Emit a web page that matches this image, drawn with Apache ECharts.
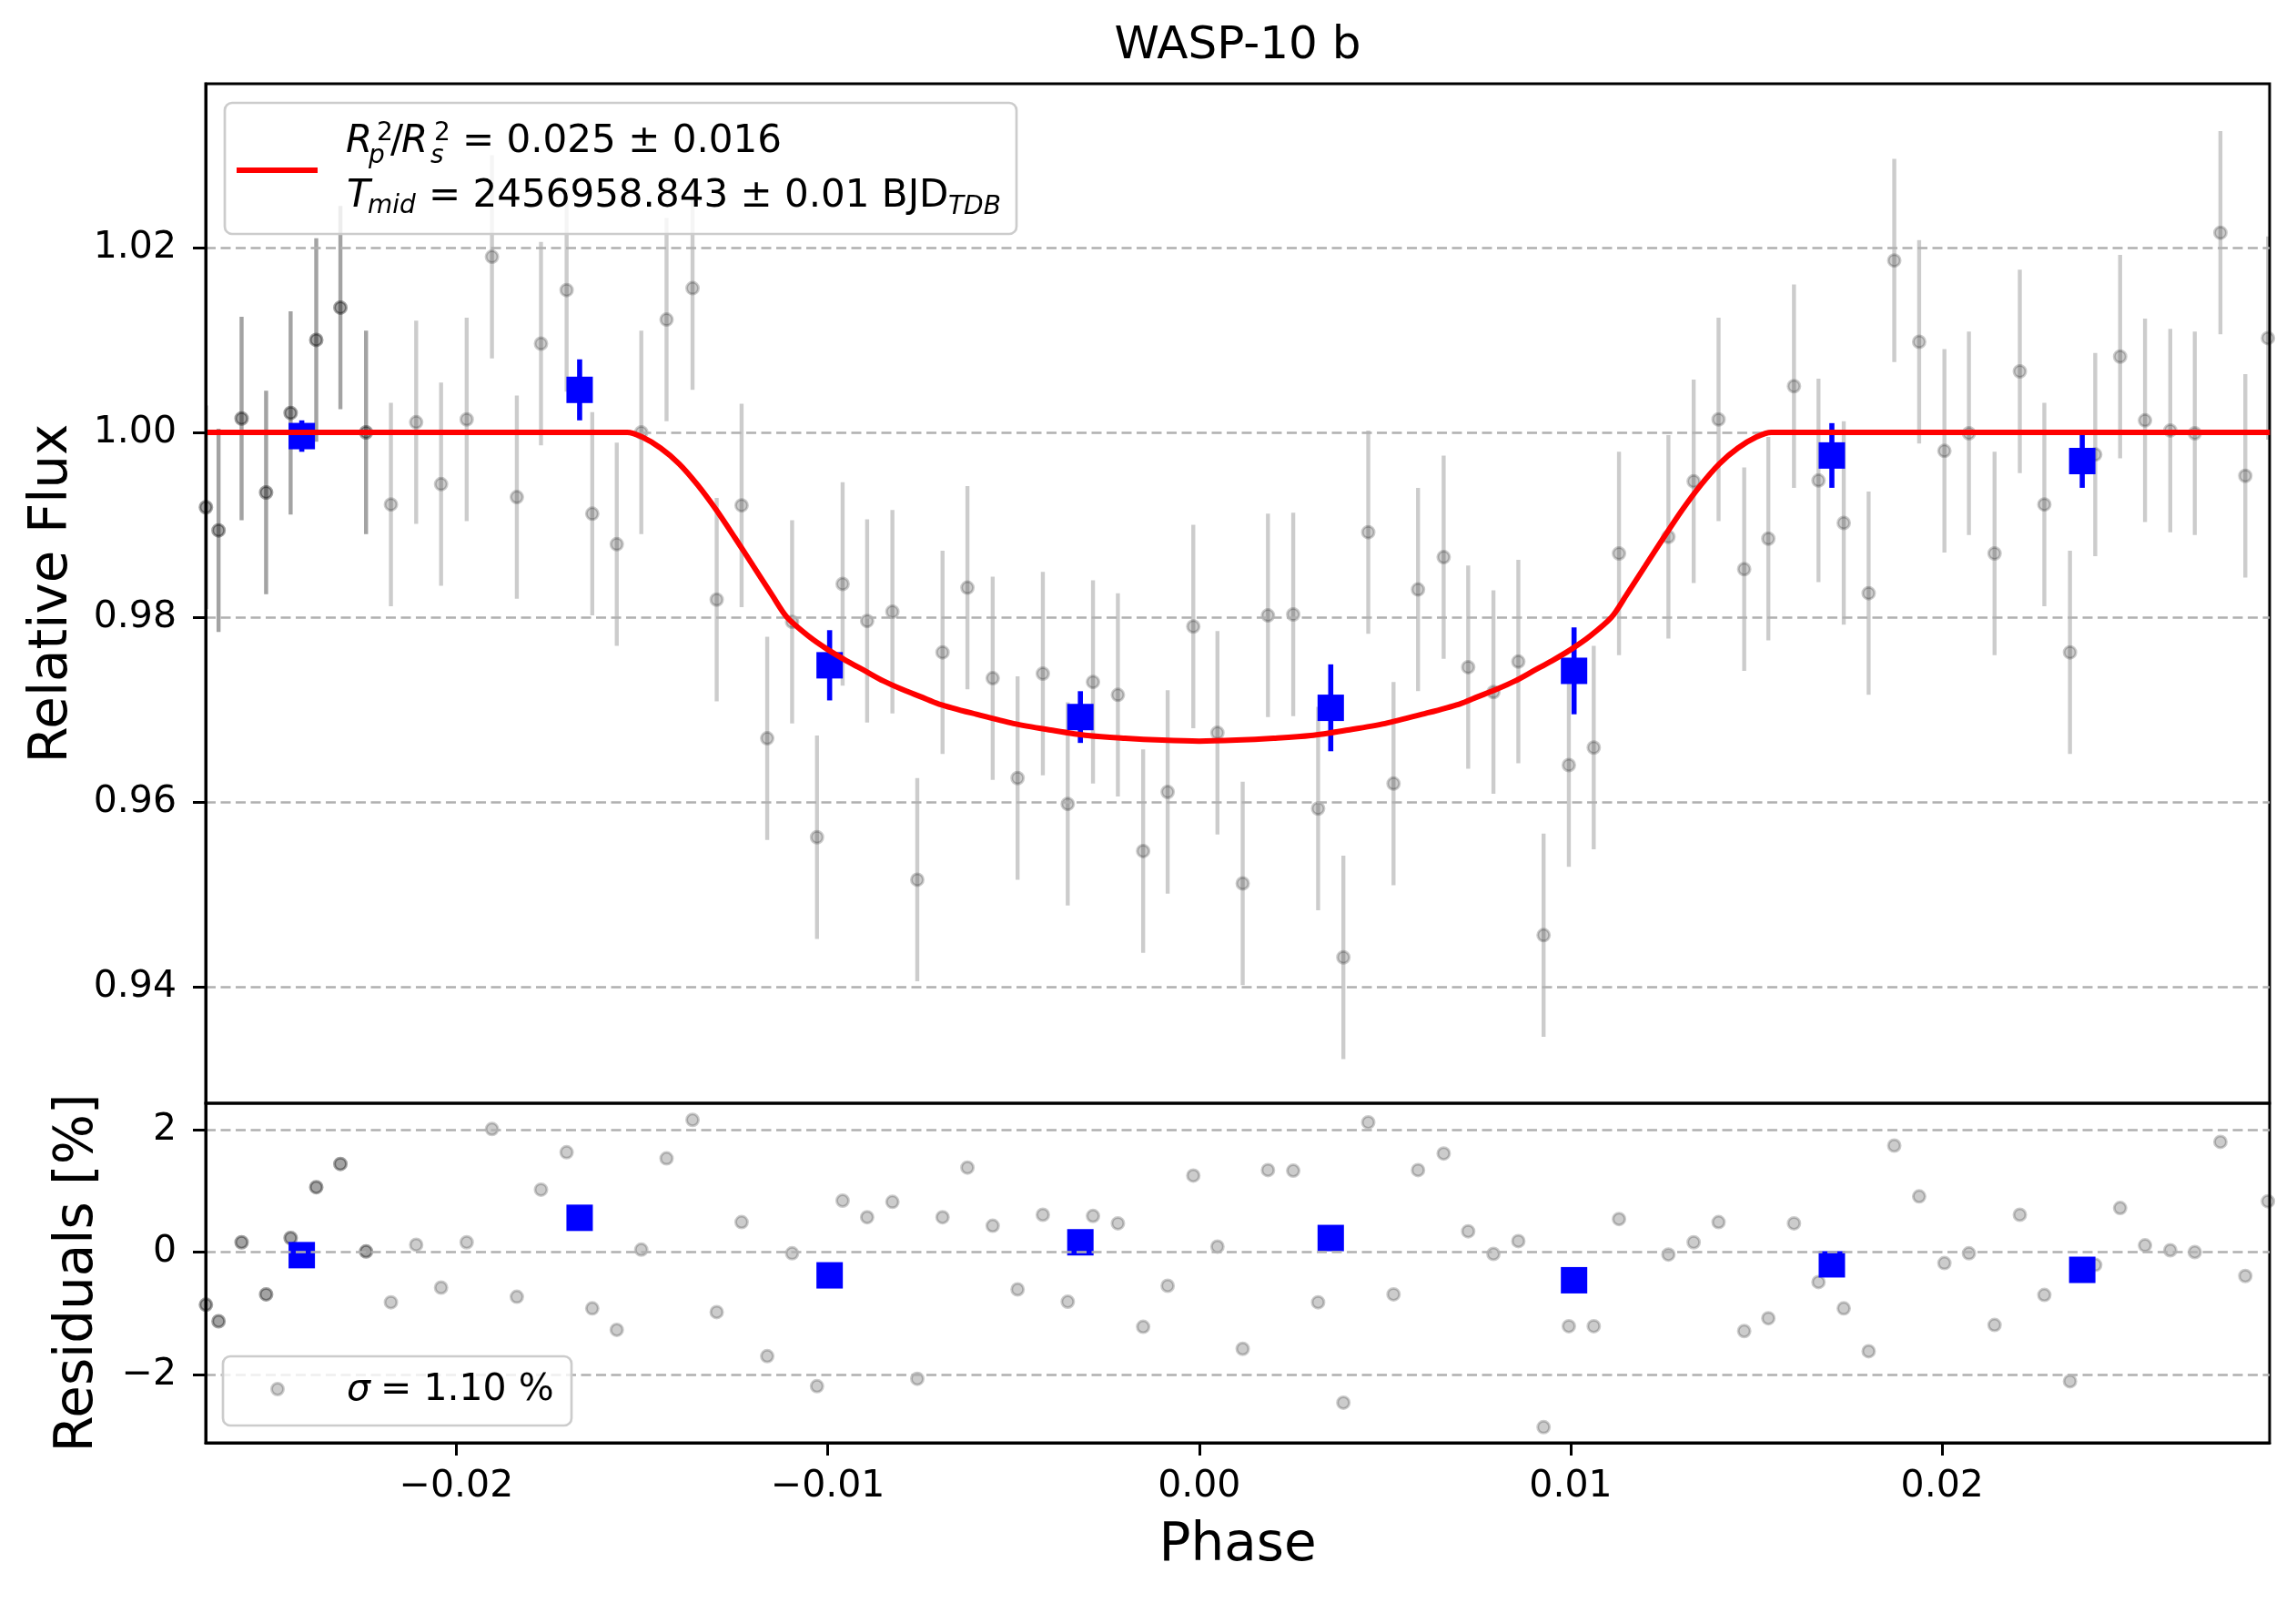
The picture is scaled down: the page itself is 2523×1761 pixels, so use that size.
<!DOCTYPE html>
<html>
<head>
<meta charset="utf-8">
<script src="https://cdn.jsdelivr.net/npm/echarts@6/dist/echarts.min.js"></script>
<style>html,body{margin:0;padding:0;background:#fff}#c{width:2523px;height:1761px}</style>
</head>
<body>
<div id="c"></div>
<script>
// ---------- data ----------
const phase = [
 -0.02674, -0.02640, -0.02578, -0.02512, -0.02446, -0.02377, -0.02312, -0.02243,
 -0.02176, -0.02108, -0.02041, -0.01972, -0.01904, -0.01837, -0.01772, -0.01703,
 -0.01634, -0.01568, -0.01502, -0.01434, -0.01364, -0.01299, -0.01232, -0.01163,
 -0.01096, -0.01029, -0.00960, -0.00894, -0.00826, -0.00759, -0.00691, -0.00624,
 -0.00556, -0.00489, -0.00421, -0.00354, -0.00286, -0.00219, -0.00151, -0.00085,
 -0.00016, 0.00049, 0.00117, 0.00185, 0.00253, 0.00320, 0.00388, 0.00455,
 0.00523, 0.00589, 0.00658, 0.00724, 0.00792, 0.00859, 0.00927, 0.00995,
 0.01062, 0.01130, 0.01263, 0.01331, 0.01398, 0.01467, 0.01532, 0.01601,
 0.01667, 0.01735, 0.01802, 0.01871, 0.01938, 0.02006, 0.02072, 0.02141,
 0.02209, 0.02275, 0.02344, 0.02412, 0.02479, 0.02546, 0.02614, 0.02680,
 0.02749, 0.02816, 0.02877
];
const flux = [
 0.9919, 0.9894, 1.0015, 0.9935, 1.0021, 1.0100, 1.0135, 1.0000,
 0.9922, 1.0011, 0.9944, 1.0014, 1.0190, 0.9930, 1.0096, 1.0154,
 0.9912, 0.9879, 1.0000, 1.0122, 1.0156, 0.9819, 0.9921, 0.9669,
 0.9795, 0.9562, 0.9836, 0.9796, 0.9806, 0.9516, 0.9762, 0.9832,
 0.9734, 0.9626, 0.9739, 0.9598, 0.9730, 0.9716, 0.9547, 0.9611,
 0.9790, 0.9675, 0.9512, 0.9802, 0.9803, 0.9593, 0.9432, 0.9892,
 0.9620, 0.9830, 0.9865, 0.9746, 0.9719, 0.9752, 0.9456, 0.9640,
 0.9659, 0.9869, 0.9887, 0.9947, 1.0014, 0.9852, 0.9885, 1.0050,
 0.9948, 0.9902, 0.9826, 1.0186, 1.0098, 0.9980, 0.9999, 0.9869,
 1.0066, 0.9922, 0.9762, 0.9976, 1.0082, 1.0013, 1.0002, 0.9999,
 1.0216, 0.9953, 1.0102
];
const fluxErr = 0.011;
const residual = [
 -0.86, -1.13, 0.16, -0.69, 0.23, 1.06, 1.44, 0.01,
 -0.82, 0.12, -0.58, 0.16, 2.01, -0.73, 1.02, 1.63,
 -0.92, -1.27, 0.04, 1.53, 2.16, -0.98, 0.49, -1.70,
 -0.02, -2.19, 0.84, 0.57, 0.82, -2.07, 0.57, 1.38,
 0.43, -0.61, 0.61, -0.81, 0.59, 0.47, -1.22, -0.55,
 1.25, 0.09, -1.58, 1.34, 1.33, -0.82, -2.46, 2.12,
 -0.69, 1.34, 1.61, 0.34, -0.03, 0.18, -2.86, -1.21,
 -1.21, 0.54, -0.04, 0.16, 0.49, -1.29, -1.08, 0.47,
 -0.49, -0.92, -1.62, 1.74, 0.91, -0.18, -0.02, -1.19,
 0.61, -0.70, -2.11, -0.21, 0.72, 0.11, 0.03, 0.00,
 1.80, -0.39, 0.83
];
// the first points appear twice (overlapping, hence darker)
const overlapCount = 8;

const binPhase = [-0.02416, -0.01668, -0.00995, -0.00320, 0.00354, 0.01009, 0.01703, 0.02377];
const binFlux = [0.9996, 1.0046, 0.9748, 0.9692, 0.9702, 0.9742, 0.9975, 0.9969];
const binErr = [0.0017, 0.0033, 0.0038, 0.0028, 0.0047, 0.0047, 0.0035, 0.0029];
const binResidual = [-0.05, 0.56, -0.38, 0.16, 0.23, -0.46, -0.20, -0.29];

// model curve
const modelPhase = [
 -0.02675, -0.0154, -0.0150, -0.0145, -0.0140, -0.0135, -0.0130, -0.0125,
 -0.0120, -0.0115, -0.0111, -0.0105, -0.0100, -0.0095, -0.0090, -0.0085,
 -0.0080, -0.0075, -0.0070, -0.0060, -0.0050, -0.0040, -0.0030, -0.0020,
 -0.0010, 0.0000, 0.0010, 0.0020, 0.0030, 0.0040, 0.0050, 0.0060,
 0.0070, 0.0075, 0.0080, 0.0085, 0.0090, 0.0095, 0.0100, 0.0105,
 0.0111, 0.0115, 0.0120, 0.0125, 0.0130, 0.0135, 0.0140, 0.0145,
 0.0150, 0.0154, 0.02882
];
const modelFlux = [
 1.0000, 1.0000, 0.9995, 0.9983, 0.9966, 0.9943, 0.9916, 0.9886,
 0.9855, 0.9824, 0.9800, 0.9779, 0.9765, 0.9753, 0.9742, 0.9731,
 0.9722, 0.9714, 0.9706, 0.9695, 0.9685, 0.9678, 0.9672, 0.9669,
 0.9667, 0.9666, 0.9667, 0.9669, 0.9672, 0.9678, 0.9685, 0.9695,
 0.9706, 0.9714, 0.9722, 0.9731, 0.9742, 0.9753, 0.9765, 0.9779,
 0.9800, 0.9824, 0.9855, 0.9886, 0.9916, 0.9943, 0.9966, 0.9983,
 0.9995, 1.0000, 1.0000
];

const phaseTicks = [-0.02, -0.01, 0.00, 0.01, 0.02];
const fluxTicks = [0.94, 0.96, 0.98, 1.00, 1.02];
const residTicks = [-2, 0, 2];

const titleText = 'WASP-10 b';
const xLabel = 'Phase';
const yLabelTop = 'Relative Flux';
const yLabelBottom = 'Residuals [%]';
const legendLine1 = '= 0.025 \u00b1 0.016';
const legendLine2 = '= 2456958.843 \u00b1 0.01 BJD';
const sigmaText = '= 1.10 %';

// ---------- layout ----------
const FONT = 'DejaVu Sans';
const XMIN = -0.026747, XMAX = 0.028814;
const YMIN = 0.927415, YMAX = 1.03772;
const RMIN = -3.115, RMAX = 2.431;
const GL = 226, GW = 2268, T1 = 92, H1 = 1120, T2 = 1212, H2 = 373;

const GRAY = 'rgba(0,0,0,0.2)';
const minus = s => s.replace('-', '\u2212');

function errRender(color, width) {
  return function (params, api) {
    const x = api.value(0), y = api.value(1), e = api.value(2);
    const a = api.coord([x, y - e]);
    const b = api.coord([x, y + e]);
    return {type: 'line', shape: {x1: a[0], y1: a[1], x2: b[0], y2: b[1]},
            style: {stroke: color, lineWidth: width}};
  };
}
const gridLineStyle = {color: '#b0b0b0', width: 2.6, type: [11, 5.5]};
const pointStyle = {color: GRAY, borderColor: GRAY, borderWidth: 3, opacity: 1};
const blueStyle = {color: '#0000ff', opacity: 1};

const fluxErrData = phase.map((p, i) => [p, flux[i], fluxErr]);
const fluxPts = phase.map((p, i) => [p, flux[i]]);
const residPts = phase.map((p, i) => [p, residual[i]]);

const axisTextStyle = {fontFamily: FONT, fontSize: 41, color: '#000'};

const option = {
  animation: false,
  backgroundColor: '#ffffff',
  grid: [
    {left: GL, top: T1, width: GW, height: H1, show: true, borderColor: '#000', borderWidth: 3, backgroundColor: 'transparent'},
    {left: GL, top: T2, width: GW, height: H2, show: true, borderColor: '#000', borderWidth: 3, backgroundColor: 'transparent'}
  ],
  xAxis: [
    {gridIndex: 0, type: 'value', min: XMIN, max: XMAX, position: 'bottom',
     axisLine: {show: false, onZero: false}, axisTick: {show: false}, axisLabel: {show: false}, splitLine: {show: false}},
    {gridIndex: 1, type: 'value', min: XMIN, max: XMAX, position: 'bottom', z: 10,
     axisLine: {show: true, onZero: false, lineStyle: {color: '#000', width: 3}},
     axisTick: {show: true, length: 14, lineStyle: {color: '#000', width: 3}, customValues: phaseTicks},
     axisLabel: Object.assign({customValues: phaseTicks, margin: 28,
       formatter: v => { let s = (+v).toFixed(2); if (s === '-0.00') s = '0.00'; return minus(s); }}, axisTextStyle),
     splitLine: {show: false},
     name: xLabel, nameLocation: 'middle', nameGap: 85,
     nameTextStyle: {fontFamily: FONT, fontSize: 58, color: '#000'}}
  ],
  yAxis: [
    {gridIndex: 0, type: 'value', min: YMIN, max: YMAX, position: 'left', z: 10,
     axisLine: {show: true, onZero: false, lineStyle: {color: '#000', width: 3}},
     axisTick: {show: true, length: 14, lineStyle: {color: '#000', width: 3}, customValues: fluxTicks},
     axisLabel: Object.assign({customValues: fluxTicks, margin: 32, formatter: v => (+v).toFixed(2)}, axisTextStyle),
     splitLine: {show: false},
     name: yLabelTop, nameLocation: 'middle', nameGap: 139,
     nameTextStyle: {fontFamily: FONT, fontSize: 58, color: '#000'}},
    {gridIndex: 1, type: 'value', min: RMIN, max: RMAX, position: 'left', z: 10,
     axisLine: {show: true, onZero: false, lineStyle: {color: '#000', width: 3}},
     axisTick: {show: true, length: 14, lineStyle: {color: '#000', width: 3}, customValues: residTicks},
     axisLabel: Object.assign({customValues: residTicks, margin: 32, formatter: v => minus(String(Math.round(v)))}, axisTextStyle),
     splitLine: {show: false},
     name: yLabelBottom, nameLocation: 'middle', nameGap: 111,
     nameTextStyle: {fontFamily: FONT, fontSize: 58, color: '#000'}}
  ],
  series: [
    // grid lines
    {type: 'line', xAxisIndex: 0, yAxisIndex: 0, data: [], z: 1, silent: true,
     markLine: {silent: true, symbol: ['none', 'none'], label: {show: false}, lineStyle: gridLineStyle,
                data: fluxTicks.map(v => ({yAxis: v}))}},
    {type: 'line', xAxisIndex: 1, yAxisIndex: 1, data: [], z: 1, silent: true,
     markLine: {silent: true, symbol: ['none', 'none'], label: {show: false}, lineStyle: gridLineStyle,
                data: residTicks.map(v => ({yAxis: v}))}},
    // unbinned flux error bars
    {type: 'custom', xAxisIndex: 0, yAxisIndex: 0, z: 2, clip: true, silent: true,
     renderItem: errRender(GRAY, 4.4), encode: {x: 0, y: 1}, data: fluxErrData},
    {type: 'custom', xAxisIndex: 0, yAxisIndex: 0, z: 2, clip: true, silent: true,
     renderItem: errRender(GRAY, 4.4), encode: {x: 0, y: 1}, data: fluxErrData.slice(0, overlapCount)},
    // unbinned flux points
    {type: 'scatter', xAxisIndex: 0, yAxisIndex: 0, z: 3, silent: true, symbol: 'circle', symbolSize: 13,
     itemStyle: pointStyle, data: fluxPts},
    {type: 'scatter', xAxisIndex: 0, yAxisIndex: 0, z: 3, silent: true, symbol: 'circle', symbolSize: 13,
     itemStyle: pointStyle, data: fluxPts.slice(0, overlapCount)},
    // binned
    {type: 'custom', xAxisIndex: 0, yAxisIndex: 0, z: 4, clip: true, silent: true,
     renderItem: errRender('#0000ff', 5.6), encode: {x: 0, y: 1},
     data: binPhase.map((p, i) => [p, binFlux[i], binErr[i]])},
    {type: 'scatter', xAxisIndex: 0, yAxisIndex: 0, z: 4, silent: true, symbol: 'rect', symbolSize: 29,
     itemStyle: blueStyle, data: binPhase.map((p, i) => [p, binFlux[i]])},
    // model
    {type: 'line', xAxisIndex: 0, yAxisIndex: 0, z: 5, silent: true, showSymbol: false, smooth: 0.3,
     lineStyle: {color: '#ff0000', width: 6}, clip: true,
     data: modelPhase.map((p, i) => [p, modelFlux[i]])},
    // residuals
    {type: 'scatter', xAxisIndex: 1, yAxisIndex: 1, z: 3, silent: true, symbol: 'circle', symbolSize: 13,
     itemStyle: pointStyle, data: residPts},
    {type: 'scatter', xAxisIndex: 1, yAxisIndex: 1, z: 3, silent: true, symbol: 'circle', symbolSize: 13,
     itemStyle: pointStyle, data: residPts.slice(0, overlapCount)},
    {type: 'scatter', xAxisIndex: 1, yAxisIndex: 1, z: 4, silent: true, symbol: 'rect', symbolSize: 29,
     itemStyle: blueStyle, data: binPhase.map((p, i) => [p, binResidual[i]])}
  ],
  graphic: [
    // title
    {type: 'text', x: 1360, y: 51.5, z: 100, style: {text: titleText, fontFamily: FONT, fontSize: 50, fill: '#000', align: 'center', verticalAlign: 'middle'}},
    // model legend
    {type: 'rect', z: 100, shape: {x: 247, y: 113, width: 870, height: 144, r: 8},
     style: {fill: 'rgba(255,255,255,0.8)', stroke: '#cccccc', lineWidth: 2.7}},
    {type: 'line', z: 101, shape: {x1: 260, y1: 187, x2: 349, y2: 187}, style: {stroke: '#ff0000', lineWidth: 6}},
    {type: 'text', z: 101, x: 380, y: 155.7, style: {text: 'R', fontFamily: FONT, fontStyle: 'italic', fontSize: 42, fill: '#000', verticalAlign: 'middle'}},
    {type: 'text', z: 101, x: 414, y: 146.5, style: {text: '2', fontFamily: FONT, fontSize: 28, fill: '#000', verticalAlign: 'middle'}},
    {type: 'text', z: 101, x: 405, y: 172, style: {text: 'p', fontFamily: FONT, fontStyle: 'italic', fontSize: 28, fill: '#000', verticalAlign: 'middle'}},
    {type: 'text', z: 101, x: 429, y: 155.7, style: {text: '/', fontFamily: FONT, fontSize: 42, fill: '#000', verticalAlign: 'middle'}},
    {type: 'text', z: 101, x: 441, y: 155.7, style: {text: 'R', fontFamily: FONT, fontStyle: 'italic', fontSize: 42, fill: '#000', verticalAlign: 'middle'}},
    {type: 'text', z: 101, x: 477, y: 146.5, style: {text: '2', fontFamily: FONT, fontSize: 28, fill: '#000', verticalAlign: 'middle'}},
    {type: 'text', z: 101, x: 473, y: 172, style: {text: 's', fontFamily: FONT, fontStyle: 'italic', fontSize: 28, fill: '#000', verticalAlign: 'middle'}},
    {type: 'text', z: 101, x: 508, y: 155.7, style: {text: legendLine1, fontFamily: FONT, fontSize: 42, fill: '#000', verticalAlign: 'middle'}},
    {type: 'text', z: 101, x: 381, y: 216, style: {text: 'T', fontFamily: FONT, fontStyle: 'italic', fontSize: 42, fill: '#000', verticalAlign: 'middle'}},
    {type: 'text', z: 101, x: 404, y: 227, style: {text: 'mid', fontFamily: FONT, fontStyle: 'italic', fontSize: 28, fill: '#000', verticalAlign: 'middle'}},
    {type: 'text', z: 101, x: 471, y: 216, style: {text: legendLine2, fontFamily: FONT, fontSize: 42, fill: '#000', verticalAlign: 'middle'}},
    {type: 'text', z: 101, x: 1042, y: 227.5, style: {text: 'TDB', fontFamily: FONT, fontStyle: 'italic', fontSize: 28, fill: '#000', verticalAlign: 'middle'}},
    // residual legend
    {type: 'rect', z: 100, shape: {x: 245, y: 1490, width: 383, height: 76, r: 8},
     style: {fill: 'rgba(255,255,255,0.8)', stroke: '#cccccc', lineWidth: 2.7}},
    {type: 'circle', z: 101, shape: {cx: 305, cy: 1526, r: 6.5}, style: {fill: GRAY, stroke: GRAY, lineWidth: 3}},
    {type: 'text', z: 101, x: 381, y: 1527, style: {text: '\u03c3', fontFamily: FONT, fontStyle: 'italic', fontSize: 41, fill: '#000', verticalAlign: 'middle'}},
    {type: 'text', z: 101, x: 418, y: 1527, style: {text: sigmaText, fontFamily: FONT, fontSize: 41, fill: '#000', verticalAlign: 'middle'}}
  ]
};

const chart = echarts.init(document.getElementById('c'), null, {renderer: 'canvas', devicePixelRatio: 1});
chart.setOption(option);
</script>
</body>
</html>
